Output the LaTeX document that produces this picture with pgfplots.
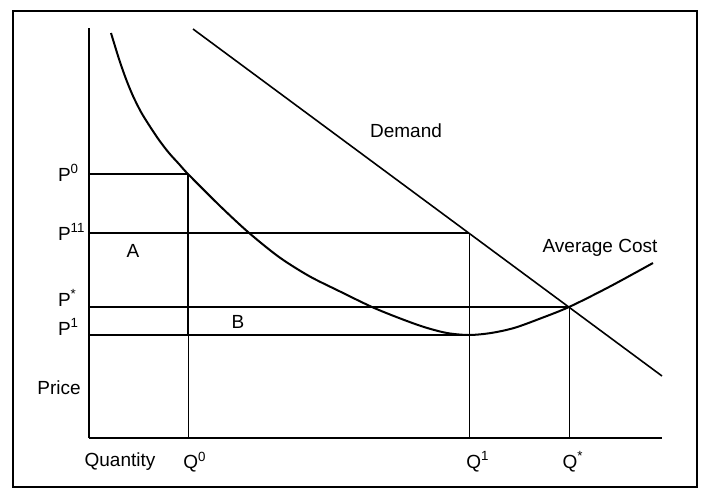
\documentclass[border=0pt]{standalone}
\usepackage{pgfplots}
\pgfplotsset{compat=1.18}
\usepackage{fontspec}
\setmainfont{Liberation Sans}
\begin{document}
\begin{tikzpicture}
\begin{axis}[
  scale only axis,
  width=286.5pt, height=205pt,
  xmin=0, xmax=573, ymin=0, ymax=410,
  axis lines=left,
  axis line style={-},
  x axis line style={line width=1.1pt},
  y axis line style={line width=0.6pt},
  xtick=\empty, ytick=\empty,
  clip=false,
  font=\fontsize{9.5}{11}\selectfont,
]
% bounding box and frame
\path (axis cs:-89,438) rectangle (axis cs:617,-51);
\draw[line width=1.3pt] (axis cs:-76,427) rectangle (axis cs:608,-49);

% Demand
\addplot[black, line width=0.8pt] coordinates {(104,409) (573,62)};
% Average cost
\addplot[black, line width=1.0pt, smooth, tension=0.5] coordinates {
(22,405) (30,379) (37,359) (44,342) (52,326) (60,313) (70,298) (80,285)
(90,274) (99,264) (130,233) (159,206) (190,181) (220,162) (250,147)
(283,131) (310,120) (335,111) (358,105) (380,103) (402,105) (425,110)
(450,119) (480,131) (520,151) (564,175)};

% price lines
\addplot[black, line width=1.1pt] coordinates {(0,264) (99,264)};
\addplot[black, line width=0.6pt] coordinates {(0,205) (380,205)};
\addplot[black, line width=1.1pt] coordinates {(0,131) (480,131)};
\addplot[black, line width=1.1pt] coordinates {(0,103) (380,103)};
% quantity lines
\addplot[black, line width=0.9pt] coordinates {(99,264) (99,103)};
\addplot[black, line width=0.5pt] coordinates {(99,103) (99,0)};
\addplot[black, line width=0.5pt] coordinates {(380,205) (380,0)};
\addplot[black, line width=0.5pt] coordinates {(480,131) (480,0)};

% labels
\node[anchor=west] at (axis cs:-38,265) {P\textsuperscript{0}};
\node[anchor=west] at (axis cs:-38,206) {P\textsuperscript{11}};
\node[anchor=west] at (axis cs:-38,140) {P\textsuperscript{*}};
\node[anchor=west] at (axis cs:-38,111) {P\textsuperscript{1}};
\node at (axis cs:-30,50) {Price};
\node at (axis cs:31,-24) {Quantity};
\node at (axis cs:106,-24) {Q\textsuperscript{0}};
\node at (axis cs:389,-24) {Q\textsuperscript{1}};
\node at (axis cs:484,-24) {Q\textsuperscript{*}};
\node at (axis cs:44,187) {A};
\node at (axis cs:149,116) {B};
\node at (axis cs:317,307) {Demand};
\node at (axis cs:511,190) {Average Cost};
\end{axis}
\end{tikzpicture}
\end{document}
